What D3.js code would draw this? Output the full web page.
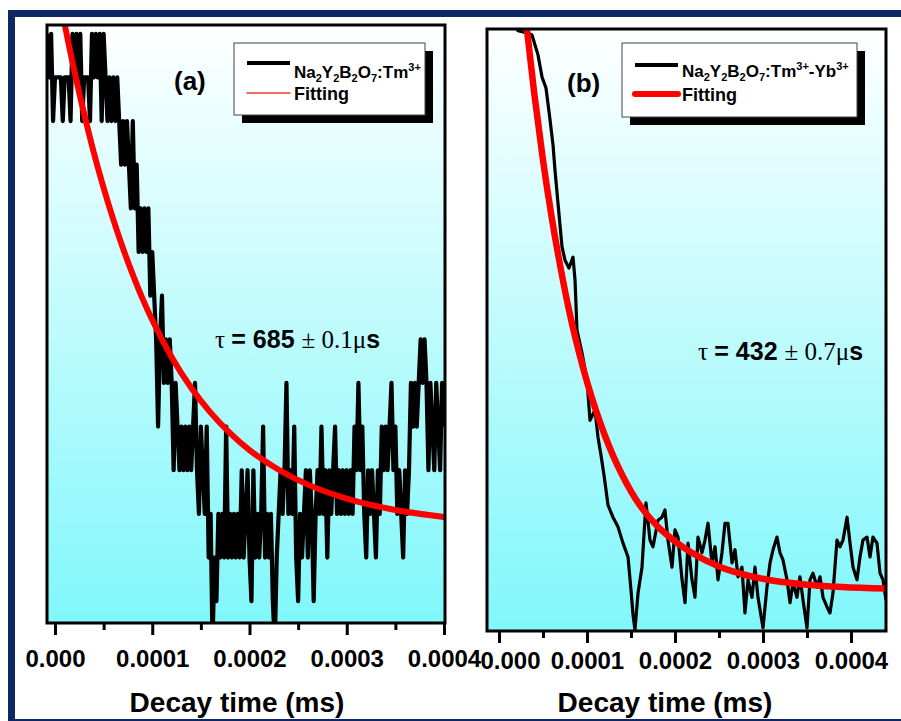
<!DOCTYPE html>
<html><head><meta charset="utf-8">
<script src="https://cdn.jsdelivr.net/npm/d3@7"></script>
<style>body{margin:0;background:#fff}svg{display:block}</style>
</head><body>
<svg id="chart" width="901" height="721"></svg>
<script>
// ---------- DATA ----------
const xTickValues = [0, 0.0001, 0.0002, 0.0003, 0.0004];
const xTickLabels = ["0.000", "0.0001", "0.0002", "0.0003", "0.0004"];
const xMinorTicks = [0.00005, 0.00015, 0.00025, 0.00035];
const xTitle = "Decay time (ms)";

// Panel (a): Na2Y2B2O7:Tm3+ — quantized counts, sampled every 0.000002 ms from -0.000008 ms
const aStartTime = -0.000008;
const aStepTime = 0.000002;
const aCounts = [
  14,13,14,12,13,13,13,13,12,13, 13,13,12,14,13,14,13,14,12,13,
  13,13,12,14,13,14,13,14,12,14, 13,12,13,12,13,12,13,12,11,12,
  11,12,11,10,12,10,11,9,10,9,   10,9,10,8,9,8,7,5,7,8,
  6,7,6,7,6,4,6,5,4,5,           4,5,4,5,4,5,6,4,3,5,
  4,3,5,2,3,0,2,1,3,2,           3,2,5,2,3,2,3,2,3,2,
  4,2,3,4,2,1,4,2,3,2,           3,5,2,3,2,3,1,0,2,3,
  4,3,4,6,3,4,3,5,2,1,           3,2,3,4,2,4,3,1,3,4,
  3,5,3,4,2,4,3,4,5,3,           4,3,4,3,4,3,4,3,5,4,
  6,4,5,3,2,4,3,4,3,2,           4,3,5,4,5,4,5,6,4,5,
  3,4,3,2,4,3,4,6,5,6,           5,6,7,6,7,6,4,6,5,4,
  6,5,4,6,5
];
const aFitTime = [0, 0.000005, 0.00001, 0.00002, 0.00003, 0.00004, 0.00005, 0.00006, 0.00007, 0.00008, 0.00009,
  0.0001, 0.00012, 0.00014, 0.00016, 0.00018, 0.0002, 0.00023, 0.00026, 0.0003, 0.00035, 0.0004];
const aFitCounts = [15.41, 14.80, 14.21, 13.14, 12.16, 11.27, 10.47, 9.74, 9.08, 8.48, 7.93,
  7.44, 6.59, 5.89, 5.32, 4.85, 4.46, 4.01, 3.67, 3.35, 3.09, 2.93];
const aTau = {value: "685", err: "0.1"};

// Panel (b): Na2Y2B2O7:Tm3+-Yb3+ — time in units of 0.0001 ms, intensity in a.u.
const bTime = [0.125,0.216,0.330,0.375,0.443,0.489,0.534,0.580,0.614,0.636,0.670,0.716,0.750,0.795,0.841,0.864,0.886,0.943,1.000,1.034,
  1.091,1.125,1.159,1.193,1.239,1.295,1.352,1.409,1.466,1.500,1.523,1.545,1.580,1.625,1.670,1.716,1.750,1.807,1.852,1.886,
  1.920,1.966,2.000,2.034,2.080,2.114,2.148,2.193,2.227,2.261,2.307,2.341,2.375,2.420,2.455,2.489,2.534,2.568,2.602,2.648,
  2.682,2.716,2.761,2.795,2.830,2.875,2.909,2.943,3.000,3.045,3.080,3.114,3.159,3.193,3.227,3.273,3.307,3.341,3.386,3.420,
  3.455,3.500,3.534,3.568,3.614,3.648,3.682,3.727,3.761,3.795,3.841,3.875,3.909,3.955,3.989,4.023,4.068,4.102,4.136,4.182,
  4.216,4.250,4.295,4.330,4.364,4.398];
const bValue = [102.3,99.7,99.3,99.0,95.7,92.0,90.2,84.9,80.7,76.6,71.1,63.8,61.6,60.3,62.1,58.3,50.0,46.2,41.7,35.0,
  36.7,32.2,29.2,25.9,20.9,18.9,17.3,14.6,12.3,6.8,2.7,0.2,6.3,10.6,21.3,15.1,14.0,18.4,18.9,20.1,
  15.1,10.6,16.8,15.6,8.5,4.7,14.6,8.5,5.6,15.6,13.0,15.1,17.9,11.3,14.0,8.5,13.0,17.9,17.9,11.3,
  13.5,9.0,10.6,3.0,8.5,5.6,10.6,5.6,0.5,7.3,11.3,13.5,15.6,13.0,11.8,8.5,4.7,8.0,5.6,9.0,
  5.1,0.5,8.5,9.6,7.3,9.0,5.6,4.0,3.0,6.3,15.1,14.0,15.1,18.9,14.6,10.6,8.5,12.3,15.1,15.6,
  12.3,15.6,14.6,9.6,8.5,5.1];
const bFitTime = [0.2,0.3,0.4,0.5,0.6,0.7,0.8,0.9,1.0,1.1,1.2,1.3,1.4,1.5,1.6,1.8,2.0,2.2,2.5,2.8,3.1,3.5,3.9,4.4];
const bFitValue = [117.1,102.2,89.4,78.2,68.6,60.3,53.0,46.8,41.4,36.7,32.6,29.0,25.9,23.2,20.9,17.4,14.9,12.9,10.7,9.3,8.4,7.7,7.3,7.05];
const bTau = {value: "432", err: "0.7"};
const bTimeUnit = 0.0001;

// ---------- DRAWING ----------
const svg = d3.select("#chart");
const SANS = "'Liberation Sans', Arial, Helvetica, sans-serif";
const SERIF = "'Liberation Serif', 'Times New Roman', serif";
const NAVY = "#0d2866";

svg.append("rect").attr("width", 901).attr("height", 721).attr("fill", "#fff");
svg.append("rect").attr("x", 8).attr("y", 10).attr("width", 893).attr("height", 711).attr("fill", NAVY);
svg.append("rect").attr("x", 15).attr("y", 17).attr("width", 886).attr("height", 702).attr("fill", "#fff");

const defs = svg.append("defs");
const grad = defs.append("linearGradient").attr("id", "bg").attr("x1", 0).attr("y1", 0).attr("x2", 0).attr("y2", 1);
grad.append("stop").attr("offset", "0%").attr("stop-color", "#ffffff");
grad.append("stop").attr("offset", "100%").attr("stop-color", "#80f7fa");

function drawPanel(p) {
  const g = svg.append("g");
  const {left, right, top, bottom} = p.frame;
  g.append("rect").attr("x", left).attr("y", top).attr("width", right - left).attr("height", bottom - top)
    .attr("fill", "url(#bg)");
  const clipId = "clip" + p.id;
  defs.append("clipPath").attr("id", clipId).append("rect")
    .attr("x", left).attr("y", top).attr("width", right - left).attr("height", bottom - top);

  const x = p.x, y = p.y;
  const plot = g.append("g").attr("clip-path", `url(#${clipId})`);
  plot.append("path").datum(p.data)
    .attr("fill", "none").attr("stroke", "#000").attr("stroke-width", p.dataWidth)
    .attr("stroke-linejoin", "round")
    .attr("d", d3.line().x(d => x(d[0])).y(d => y(d[1])));
  plot.append("path").datum(p.fit)
    .attr("fill", "none").attr("stroke", "#ff0000").attr("stroke-width", p.fitWidth)
    .attr("stroke-linecap", "round")
    .attr("d", d3.line().curve(d3.curveMonotoneX).x(d => x(d[0])).y(d => y(d[1])));

  // frame
  g.append("rect").attr("x", left).attr("y", top).attr("width", right - left).attr("height", bottom - top)
    .attr("fill", "none").attr("stroke", "#000").attr("stroke-width", 3);

  // axes
  const major = d3.axisBottom(x).tickValues(xTickValues).tickSize(12).tickPadding(p.tickPad)
    .tickFormat((d, i) => xTickLabels[i]);
  const ax = g.append("g").attr("transform", `translate(0,${bottom})`).call(major);
  ax.select(".domain").remove();
  ax.selectAll("line").attr("stroke", "#000").attr("stroke-width", 3);
  ax.selectAll("text").attr("font-family", SANS).attr("font-size", 24).attr("font-weight", "bold").attr("fill", "#000")
    .attr("dx", (d, i) => (i === 0 ? p.firstLabelShift : 0));
  const minor = d3.axisBottom(x).tickValues(xMinorTicks).tickSize(7).tickFormat("");
  const ax2 = g.append("g").attr("transform", `translate(0,${bottom})`).call(minor);
  ax2.select(".domain").remove();
  ax2.selectAll("line").attr("stroke", "#000").attr("stroke-width", 3);

  g.append("text").attr("x", p.titleX).attr("y", 712).attr("text-anchor", "middle")
    .attr("font-family", SANS).attr("font-size", 28).attr("font-weight", "bold").text(xTitle);

  // panel label
  g.append("text").attr("x", p.labelPos[0]).attr("y", p.labelPos[1]).attr("font-family", SANS)
    .attr("font-size", 26).attr("font-weight", "bold").text(p.label);

  // legend
  const L = p.legend;
  g.append("rect").attr("x", L.x + 8).attr("y", L.y + 8).attr("width", L.w).attr("height", L.h).attr("fill", "#000");
  g.append("rect").attr("x", L.x).attr("y", L.y).attr("width", L.w).attr("height", L.h)
    .attr("fill", "#fff").attr("stroke", "#444").attr("stroke-width", 1);
  g.append("line").attr("x1", L.x + 13).attr("x2", L.x + 56).attr("y1", L.y1).attr("y2", L.y1)
    .attr("stroke", "#000").attr("stroke-width", 4);
  g.append("line").attr("x1", L.x + 13).attr("x2", L.x + 56).attr("y1", L.y2).attr("y2", L.y2)
    .attr("stroke", L.fitColor).attr("stroke-width", L.fitLegendWidth).attr("stroke-linecap", "round");
  const t1 = g.append("text").attr("x", L.x + 60).attr("y", L.t1).attr("font-family", SANS)
    .attr("font-size", 17).attr("font-weight", "bold");
  const parts = [["Na",0],["2",1],["Y",0],["2",1],["B",0],["2",1],["O",0],["7",1],[":Tm",0],["3+",2]].concat(p.extraLegend);
  let cur = 0;
  parts.forEach(([s, k]) => {
    const target = k === 1 ? 4 : k === 2 ? -7 : 0;
    t1.append("tspan").attr("dy", target - cur).attr("font-size", k ? 11 : 17).text(s);
    cur = target;
  });
  g.append("text").attr("x", L.x + 60).attr("y", L.t2).attr("font-family", SANS)
    .attr("font-size", 18).attr("font-weight", "bold").text("Fitting");

  // tau annotation
  const tt = g.append("text").attr("x", p.tauPos[0]).attr("y", p.tauPos[1]).attr("font-size", 25);
  tt.append("tspan").attr("font-family", SERIF).text("\u03c4 ");
  tt.append("tspan").attr("font-family", SANS).attr("font-weight", "bold").text("= " + p.tau.value + " ");
  tt.append("tspan").attr("font-family", SERIF).text("\u00b1 " + p.tau.err + "\u03bc");
  tt.append("tspan").attr("font-family", SANS).attr("font-weight", "bold").text("s");
}

// Panel (a)
const xA = d3.scaleLinear().domain([0, 0.0004]).range([55, 444]);
const yA = d3.scaleLinear().domain([0.5, 14.2]).range([623, 25]);
drawPanel({
  id: "a", frame: {left: 47, right: 445, top: 25, bottom: 623}, x: xA, y: yA,
  data: aCounts.map((c, i) => [aStartTime + i * aStepTime, c]),
  fit: aFitTime.map((t, i) => [t, aFitCounts[i]]),
  dataWidth: 4.2, fitWidth: 6, tickPad: 15, firstLabelShift: 0, titleX: 237,
  label: "(a)", labelPos: [174, 90],
  legend: {x: 234, y: 43, w: 191, h: 72, y1: 63, y2: 93, t1: 78, t2: 100, fitColor: "#e63c3c", fitLegendWidth: 1.5},
  extraLegend: [],
  tau: aTau, tauPos: [215, 348]
});

// Panel (b)
const xB = d3.scaleLinear().domain([0, 0.0004]).range([499, 851]);
const yB = d3.scaleLinear().domain([0, 100]).range([631, 29]);
drawPanel({
  id: "b", frame: {left: 487, right: 886, top: 29, bottom: 631}, x: xB, y: yB,
  data: bTime.map((t, i) => [t * bTimeUnit, bValue[i]]),
  fit: bFitTime.map((t, i) => [t * bTimeUnit, bFitValue[i]]),
  dataWidth: 3.2, fitWidth: 6.5, tickPad: 9, firstLabelShift: 11, titleX: 665,
  label: "(b)", labelPos: [567, 92],
  legend: {x: 622, y: 43, w: 235, h: 74, y1: 65, y2: 94, t1: 77, t2: 101, fitColor: "#ff0000", fitLegendWidth: 6},
  extraLegend: [["-Yb",0],["3+",2]],
  tau: bTau, tauPos: [698, 360]
});
</script>
</body></html>
